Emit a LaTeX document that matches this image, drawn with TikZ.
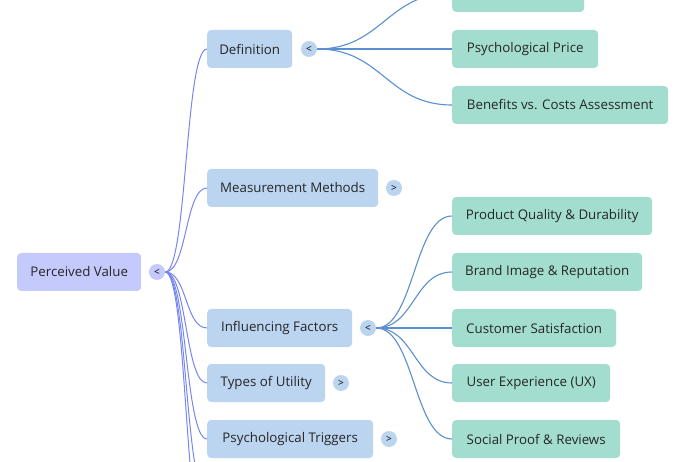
\documentclass[tikz,border=0pt]{standalone}
\usepackage{fontspec}
\setmainfont{Open Sans}
\begin{document}
\begin{tikzpicture}[x=1pt,y=-1pt,
  box/.style={rounded corners=4pt,minimum height=38pt,inner xsep=12pt,font=\fontsize{13.3}{15}\selectfont,text=black!85,anchor=west},
  lav/.style={box,fill={rgb,255:red,197;green,202;blue,252}},
  blu/.style={box,fill={rgb,255:red,187;green,212;blue,240}},
  grn/.style={box,fill={rgb,255:red,162;green,221;blue,208}},
  tog/.style={circle,minimum size=16pt,inner sep=0pt,fill={rgb,255:red,187;green,212;blue,240},font=\fontsize{10}{10}\selectfont},
  re/.style={draw={rgb,255:red,120;green,134;blue,240},line width=1pt},
  ce/.style={draw={rgb,255:red,90;green,143;blue,208},line width=1.1pt}]
\useasboundingbox (0,0) rectangle (680,462);
\clip (0,0) rectangle (680,462);
\node[lav,minimum width=124pt] (pv) at (17,272) {Perceived Value};
\node[tog,fill={rgb,255:red,197;green,202;blue,252}] (tpv) at (157,272) {<};
\node[blu,minimum width=85pt] (def) at (207,49) {Definition};
\node[tog] (tdef) at (309,49) {<};
\node[blu,minimum width=171pt] (mm) at (207,188) {Measurement Methods};
\node[tog] (tmm) at (394,188) {>};
\node[blu,minimum width=145pt] (inf) at (207,328) {Influencing Factors};
\node[tog] (tinf) at (368,328) {<};
\node[blu,minimum width=118pt] (tu) at (207,383) {Types of Utility};
\node[tog] (ttu) at (341,383) {>};
\node[blu,minimum width=166pt] (pt) at (207,439) {Psychological Triggers};
\node[tog] (tpt) at (389,439) {>};
\coordinate (x1) at (207,495);
\coordinate (x2) at (207,550);
\node[grn,minimum width=132pt] (g0) at (452,-7) {};
\node[grn,minimum width=146pt] (g1) at (452,49) {Psychological Price};
\node[grn,minimum width=216pt] (g2) at (452,105) {Benefits vs. Costs Assessment};
\node[grn,minimum width=200pt] (h1) at (452,216) {Product Quality \& Durability};
\node[grn,minimum width=190pt] (h2) at (452,272) {Brand Image \& Reputation};
\node[grn,minimum width=164pt] (h3) at (452,328) {Customer Satisfaction};
\node[grn,minimum width=158pt] (h4) at (452,383) {User Experience (UX)};
\node[grn,minimum width=168pt] (h5) at (452,439) {Social Proof \& Reviews};
\foreach \t in {def,mm,inf,tu,pt}
  \draw[re] (tpv.east) .. controls +(22,0) and +(-22,0) .. (\t.west);
\foreach \t in {x1,x2}
  \draw[re] (tpv.east) .. controls +(22,0) and +(-22,0) .. (\t);
\foreach \t in {g0,g1,g2}
  \draw[ce] (tdef.east) .. controls +(65,0) and +(-65,0) .. (\t.west);
\foreach \t in {h1,h2,h3,h4,h5}
  \draw[ce] (tinf.east) .. controls +(38,0) and +(-38,0) .. (\t.west);
\end{tikzpicture}
\end{document}
